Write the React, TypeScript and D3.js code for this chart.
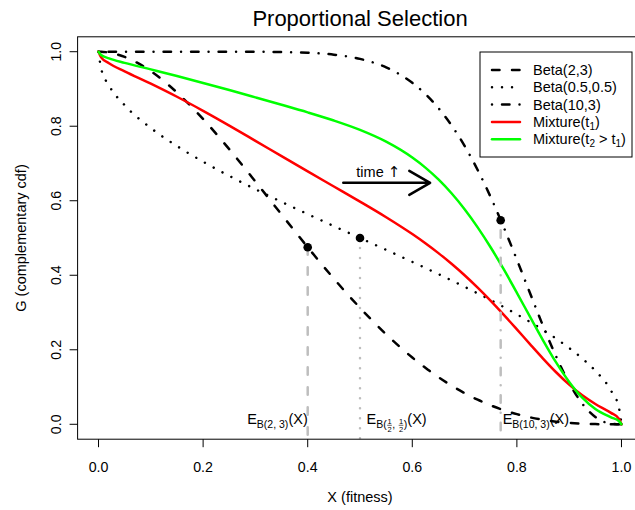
import React from 'react';
import * as d3 from 'd3';

// ---------- data ----------
const xGrid = [0, 0.005, 0.02, 0.05, 0.1, 0.15, 0.2, 0.25, 0.3, 0.35, 0.4, 0.45, 0.5, 0.55, 0.6, 0.625, 0.65, 0.675, 0.7, 0.725, 0.75, 0.775, 0.8, 0.825, 0.85, 0.875, 0.9, 0.925, 0.95, 0.98, 0.995, 1];
const beta23 = [1, 0.9999, 0.9977, 0.986, 0.9477, 0.8905, 0.8192, 0.7383, 0.6517, 0.563, 0.4752, 0.391, 0.3125, 0.2415, 0.1792, 0.1516, 0.1265, 0.1038, 0.0837, 0.066, 0.0508, 0.0379, 0.0272, 0.0186, 0.012, 0.0071, 0.0037, 0.0016, 0.0005, 0.0, 0, 0];
const beta0505 = [1, 0.955, 0.9097, 0.8564, 0.7952, 0.7468, 0.7048, 0.6667, 0.631, 0.597, 0.5641, 0.5319, 0.5, 0.4681, 0.4359, 0.4196, 0.403, 0.3862, 0.369, 0.3514, 0.3333, 0.3146, 0.2952, 0.2748, 0.2532, 0.2301, 0.2048, 0.1766, 0.1436, 0.0903, 0.045, 0];
const beta103 = [1, 1, 1, 1, 1, 1, 1, 1, 0.9998, 0.9991, 0.9972, 0.9921, 0.9807, 0.9579, 0.9166, 0.8865, 0.8487, 0.8025, 0.7472, 0.6826, 0.6093, 0.5283, 0.4417, 0.3524, 0.2642, 0.182, 0.1109, 0.0555, 0.0196, 0.0015, 0, 0];
const mixtureT1 = [1, 0.9849, 0.9691, 0.9475, 0.9143, 0.8791, 0.8413, 0.8017, 0.7608, 0.7197, 0.6788, 0.6383, 0.5977, 0.5558, 0.5106, 0.4859, 0.4594, 0.4308, 0.4, 0.3667, 0.3311, 0.2936, 0.2547, 0.2153, 0.1765, 0.1397, 0.1065, 0.0779, 0.0546, 0.0306, 0.015, 0];
const mixtureT2 = [1, 0.9912, 0.9821, 0.97, 0.9525, 0.9348, 0.9162, 0.8971, 0.8774, 0.8575, 0.8371, 0.8152, 0.7901, 0.7585, 0.7159, 0.6889, 0.6571, 0.62, 0.5773, 0.5286, 0.4745, 0.4155, 0.353, 0.2889, 0.2255, 0.166, 0.1137, 0.0713, 0.041, 0.0186, 0.0088, 0];

const meanX = [0.4, 0.5, 0.769];
const meanG = [0.4752, 0.5, 0.5477];

const xTicks = [0, 0.2, 0.4, 0.6, 0.8, 1.0];
const yTicks = [0, 0.2, 0.4, 0.6, 0.8, 1.0];
const tickLabels = ['0.0', '0.2', '0.4', '0.6', '0.8', '1.0'];

const arrowFrom = [0.468, 0.648];
const arrowTo = [0.634, 0.648];
const arrowLabelPos = [0.535, 0.663];

const legendLabels = ['Beta(2,3)', 'Beta(0.5,0.5)', 'Beta(10,3)', 'Mixture(t1)', 'Mixture(t2>t1)'];

// ---------- layout / style ----------
const W = 635;
const H = 510;
const FONT = "'Liberation Sans', Arial, Helvetica, sans-serif";
const LW = 2.5;
const DASHED = '7.5 12.5';
const DOTTED = '0.01 10';
const DOTDASH = '0.01 10 7.5 10';

const x = d3.scaleLinear().domain([-0.04, 1.04]).range([77.6, 642.4]);
const y = d3.scaleLinear().domain([-0.04, 1.04]).range([439.2, 36.8]);

let ctx: CanvasRenderingContext2D | null = null;
function measure(t: string, size: number): number {
  if (!ctx) ctx = document.createElement('canvas').getContext('2d');
  if (!ctx) return t.length * size * 0.55;
  ctx.font = `${size}px ${FONT}`;
  return ctx.measureText(t).width;
}

type Piece = { t: string; size: number; dy: number } | { num: string; den: string; size: number; dy: number };

function pieceWidth(p: Piece): number {
  if ('t' in p) return measure(p.t, p.size);
  return Math.max(measure(p.num, p.size), measure(p.den, p.size)) + 1.5;
}

function MathLabel({ xPos, base, pieces, anchor }: { xPos: number; base: number; pieces: Piece[]; anchor: 'start' | 'end' }) {
  const total = pieces.reduce((s, p) => s + pieceWidth(p), 0);
  let cx = anchor === 'end' ? xPos - total : xPos;
  const out: React.ReactNode[] = [];
  pieces.forEach((p, i) => {
    const w = pieceWidth(p);
    if ('t' in p) {
      out.push(
        <text key={i} x={cx} y={base + p.dy} fontSize={p.size} fontFamily={FONT} fill="#000" style={{ whiteSpace: 'pre' }}>
          {p.t}
        </text>
      );
    } else {
      const sb = base + p.dy;
      const mid = cx + w / 2;
      out.push(
        <g key={i}>
          <text x={mid} y={sb - 4.3} fontSize={p.size} fontFamily={FONT} textAnchor="middle">{p.num}</text>
          <line x1={cx + 0.5} x2={cx + w - 0.5} y1={sb - 3} y2={sb - 3} stroke="#000" strokeWidth={0.6} />
          <text x={mid} y={sb + 3.6} fontSize={p.size} fontFamily={FONT} textAnchor="middle">{p.den}</text>
        </g>
      );
    }
    cx += w;
  });
  return <g>{out}</g>;
}

export default function App() {
  const line = d3
    .line<number>()
    .x((_, i) => x(xGrid[i]))
    .y((d) => y(d))
    .curve(d3.curveMonotoneX);

  const series = [
    { data: beta23, color: '#000', dash: DASHED },
    { data: beta0505, color: '#000', dash: DOTTED },
    { data: beta103, color: '#000', dash: DOTDASH },
    { data: mixtureT1, color: '#ff0000', dash: undefined },
    { data: mixtureT2, color: '#00ff00', dash: undefined },
  ];
  const vDash = [DASHED, DOTTED, DOTDASH];

  const base0 = y(0);
  const subDy = 4;
  const S = 14.5;
  const s = 10.5;
  const f = 7.5;
  const labels: { xPos: number; anchor: 'start' | 'end'; pieces: Piece[] }[] = [
    {
      xPos: x(meanX[0]),
      anchor: 'end',
      pieces: [
        { t: 'E', size: S, dy: 0 },
        { t: 'B(2, 3)', size: s, dy: subDy },
        { t: '(X)', size: S, dy: 0 },
      ],
    },
    {
      xPos: x(meanX[1]) + 6.5,
      anchor: 'start',
      pieces: [
        { t: 'E', size: S, dy: 0 },
        { t: 'B(', size: s, dy: subDy },
        { num: '1', den: '2', size: f, dy: subDy },
        { t: ', ', size: s, dy: subDy },
        { num: '1', den: '2', size: f, dy: subDy },
        { t: ')', size: s, dy: subDy },
        { t: '(X)', size: S, dy: 0 },
      ],
    },
    {
      xPos: x(meanX[2]) + 2,
      anchor: 'start',
      pieces: [
        { t: 'E', size: S, dy: 0 },
        { t: 'B(10, 3)', size: s, dy: subDy },
        { t: '(X)', size: S, dy: 0 },
      ],
    },
  ];

  // arrow head
  const ax0 = x(arrowFrom[0]);
  const ay0 = y(arrowFrom[1]);
  const ax1 = x(arrowTo[0]);
  const ay1 = y(arrowTo[1]);
  const ang = Math.atan2(ay1 - ay0, ax1 - ax0);
  const hl = 24;
  const ha = Math.PI / 6;
  const h1 = [ax1 - hl * Math.cos(ang - ha), ay1 - hl * Math.sin(ang - ha)];
  const h2 = [ax1 - hl * Math.cos(ang + ha), ay1 - hl * Math.sin(ang + ha)];

  // legend
  const lgX0 = 480;
  const lgX1 = 632;
  const lgY0 = 52;
  const lgY1 = 157;
  const rowY = (i: number) => 70 + i * 17.3;

  const plotLeft = x(-0.04);
  const plotRight = x(1.04);
  const plotTop = y(1.04);
  const plotBottom = y(-0.04);

  return (
    <div style={{ position: 'absolute', left: 0, top: 0 }}>
      <svg width={W} height={H} style={{ display: 'block', background: '#fff' }}>
        <rect x={0} y={0} width={W} height={H} fill="#fff" />
        <defs>
          <clipPath id="plotclip">
            <rect x={plotLeft} y={plotTop} width={plotRight - plotLeft} height={plotBottom - plotTop} />
          </clipPath>
        </defs>
        {/* title */}
        <text x={(plotLeft + plotRight) / 2} y={26} textAnchor="middle" fontSize={22} fontFamily={FONT}>
          Proportional Selection
        </text>

        <g clipPath="url(#plotclip)">
          {series.map((sr, i) => (
            <path
              key={i}
              d={line(sr.data) || ''}
              fill="none"
              stroke={sr.color}
              strokeWidth={LW}
              strokeDasharray={sr.dash}
              strokeLinecap="round"
              strokeLinejoin="round"
            />
          ))}
          {meanX.map((m, i) => (
            <line
              key={'v' + i}
              x1={x(m)}
              x2={x(m)}
              y1={y(meanG[i])}
              y2={plotBottom}
              stroke="#bebebe"
              strokeWidth={LW}
              strokeDasharray={vDash[i]}
              strokeLinecap="round"
            />
          ))}
          {meanX.map((m, i) => (
            <circle key={'p' + i} cx={x(m)} cy={y(meanG[i])} r={4.3} fill="#000" />
          ))}
        </g>

        {labels.map((l, i) => (
          <MathLabel key={i} xPos={l.xPos} base={base0} pieces={l.pieces} anchor={l.anchor} />
        ))}

        {/* arrow */}
        <path
          d={`M${ax0},${ay0}L${ax1},${ay1}M${h1[0]},${h1[1]}L${ax1},${ay1}L${h2[0]},${h2[1]}`}
          fill="none"
          stroke="#000"
          strokeWidth={LW}
          strokeLinecap="round"
          strokeLinejoin="round"
        />
        <text x={x(arrowLabelPos[0])} y={y(arrowLabelPos[1])} textAnchor="middle" fontSize={14.5} fontFamily={FONT} style={{ whiteSpace: 'pre' }}>
          {'time '}
          <tspan fontFamily="'DejaVu Sans', sans-serif" fontSize={15}>↑</tspan>
        </text>

        {/* plot frame */}
        <rect x={plotLeft} y={plotTop} width={plotRight - plotLeft} height={plotBottom - plotTop} fill="none" stroke="#000" strokeWidth={1} />

        {/* x axis */}
        {xTicks.map((t, i) => (
          <g key={'xt' + i}>
            <line x1={x(t)} x2={x(t)} y1={plotBottom} y2={plotBottom + 8} stroke="#000" />
            <text x={x(t)} y={472} textAnchor="middle" fontSize={14.2} fontFamily={FONT}>
              {tickLabels[i]}
            </text>
          </g>
        ))}
        <text x={(plotLeft + plotRight) / 2} y={502} textAnchor="middle" fontSize={14.5} fontFamily={FONT}>
          X (fitness)
        </text>

        {/* y axis */}
        {yTicks.map((t, i) => (
          <g key={'yt' + i}>
            <line x1={plotLeft - 8} x2={plotLeft} y1={y(t)} y2={y(t)} stroke="#000" />
            <text
              transform={`translate(60.5,${y(t)}) rotate(-90)`}
              textAnchor="middle"
              fontSize={14.2}
              fontFamily={FONT}
            >
              {tickLabels[i]}
            </text>
          </g>
        ))}
        <text transform={`translate(25.5,${(plotTop + plotBottom) / 2}) rotate(-90)`} textAnchor="middle" fontSize={14.5} fontFamily={FONT}>
          G (complementary cdf)
        </text>

        {/* legend */}
        <rect x={lgX0} y={lgY0} width={lgX1 - lgX0} height={lgY1 - lgY0} fill="#fff" stroke="#000" strokeWidth={1} />
        {series.map((sr, i) => (
          <g key={'lg' + i}>
            <line
              x1={492}
              x2={520}
              y1={rowY(i)}
              y2={rowY(i)}
              stroke={sr.color}
              strokeWidth={LW}
              strokeDasharray={sr.dash}
              strokeLinecap="round"
            />
            {i < 3 ? (
              <text x={533} y={rowY(i) + 5} fontSize={14.5} fontFamily={FONT}>
                {legendLabels[i]}
              </text>
            ) : i === 3 ? (
              <text x={533} y={rowY(i) + 5} fontSize={14.5} fontFamily={FONT}>
                Mixture(t<tspan fontSize={10} dy={3}>1</tspan>
                <tspan dy={-3}>)</tspan>
              </text>
            ) : (
              <text x={533} y={rowY(i) + 5} fontSize={14.5} fontFamily={FONT} style={{ whiteSpace: 'pre' }}>
                Mixture(t<tspan fontSize={10} dy={3}>2</tspan>
                <tspan dy={-3}> &gt; t</tspan>
                <tspan fontSize={10} dy={3}>1</tspan>
                <tspan dy={-3}>)</tspan>
              </text>
            )}
          </g>
        ))}
      </svg>
    </div>
  );
}
